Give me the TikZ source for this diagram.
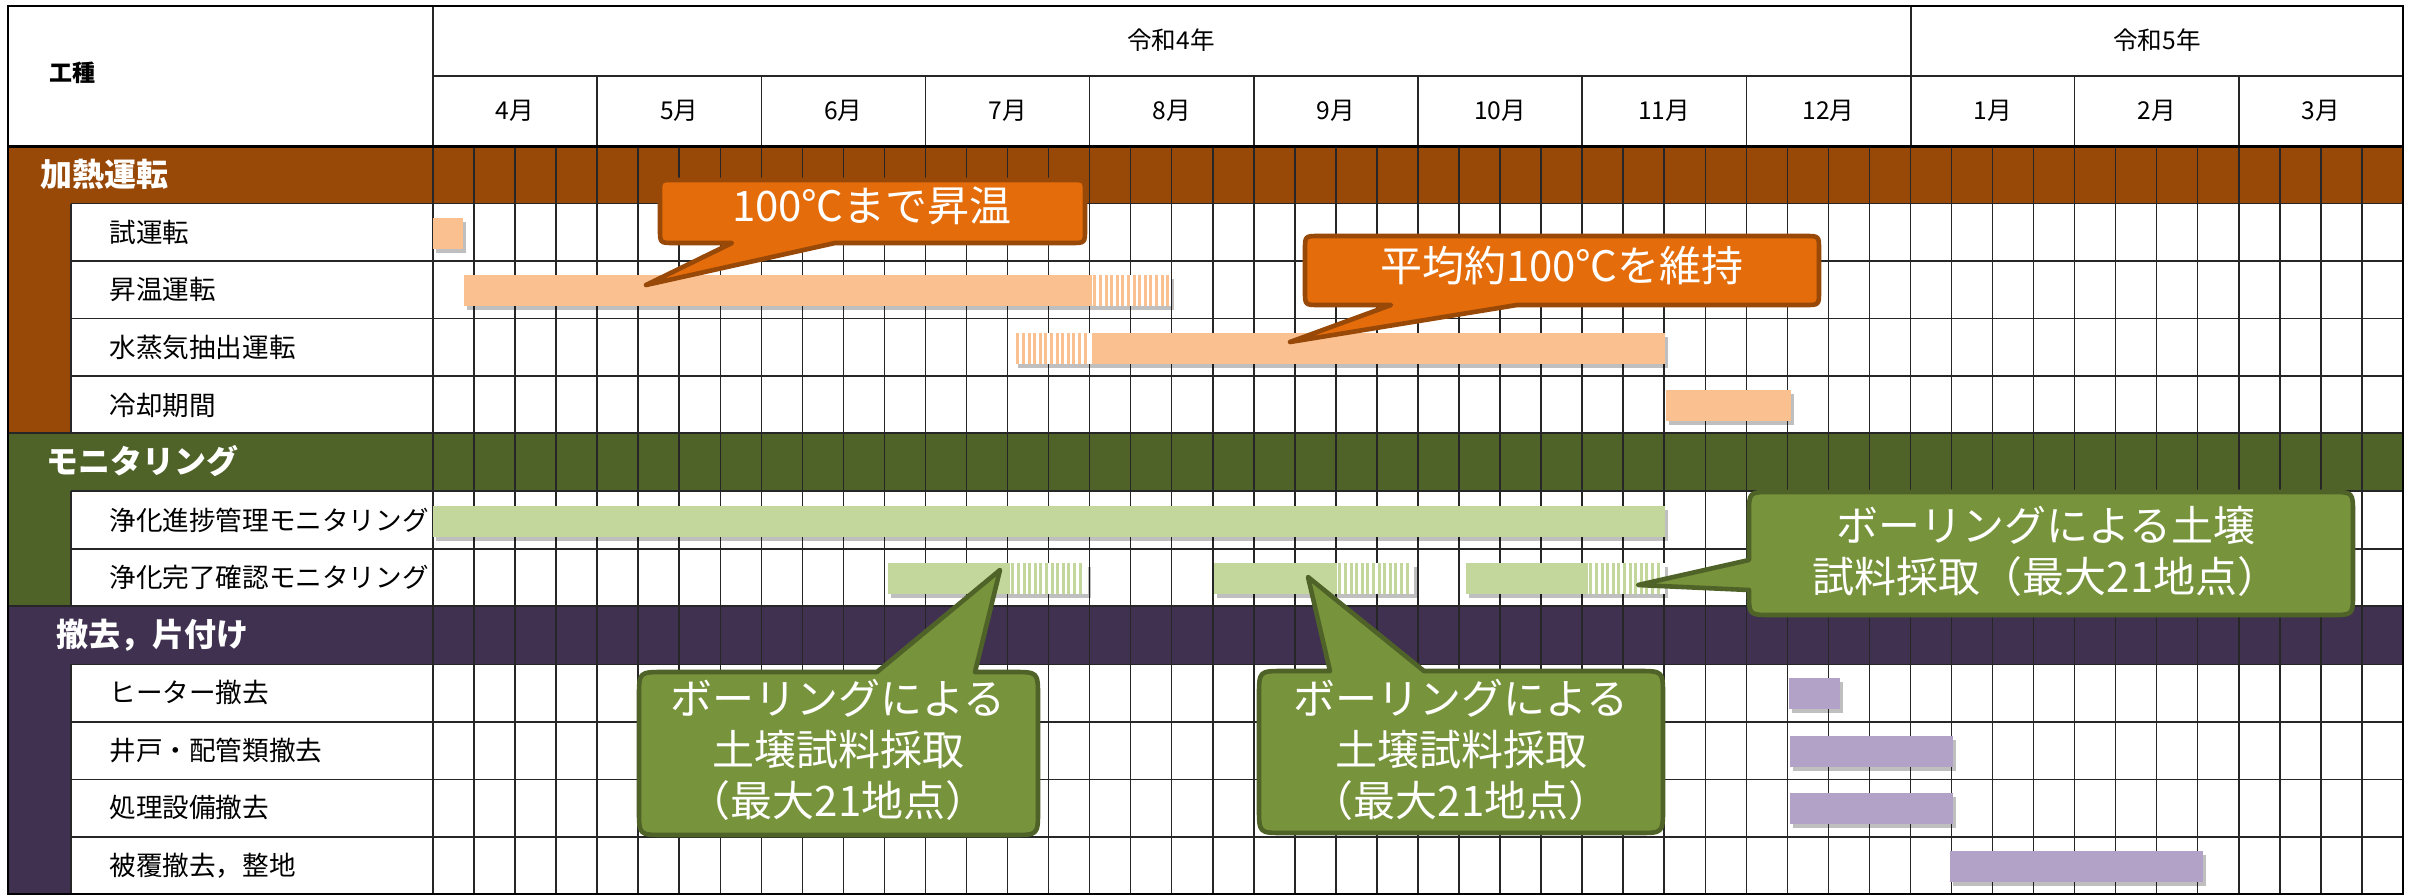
\documentclass[tikz,border=0pt]{standalone}
\usepackage{fontspec}
\setmainfont{Noto Sans CJK JP}
\usetikzlibrary{shadows}
\definecolor{brownband}{HTML}{984807}
\definecolor{oliveband}{HTML}{4F6228}
\definecolor{purpband}{HTML}{403151}
\definecolor{orangebar}{HTML}{FAC090}
\definecolor{greenbar}{HTML}{C3D69B}
\definecolor{purpbar}{HTML}{B3A2C7}
\definecolor{orangecall}{HTML}{E46C0A}
\definecolor{greencall}{HTML}{77933C}
\newcommand{\gstripes}[4]{%
  \pgfmathtruncatemacro{\nst}{(#2-#1)/5.6-1}%
  \foreach \s in {0,...,\nst} \fill[#4] ({#1+1.3+\s*5.6},#3) rectangle ++(3,31);%
}
\begin{document}
\begin{tikzpicture}[x=0.5pt,y=-0.5pt,
  grid/.style={line width=0.75pt,draw=black!85},
  shad/.style={drop shadow={shadow xshift=1.5pt,shadow yshift=-2pt,opacity=0.25,fill=black}},
  lbl/.style={anchor=west,inner sep=0pt,font=\fontsize{13.3}{16}\selectfont},
  ttl/.style={anchor=west,inner sep=0pt,text=white,font=\fontsize{16}{18}\selectfont\bfseries},
  hdr/.style={inner sep=0pt,font=\fontsize{12.3}{14}\selectfont},
  ctext/.style={inner sep=0pt,text=white,align=center,font=\fontsize{21}{25.5}\selectfont},
  ocall/.style={fill=orangecall,draw=brownband,line width=2.3pt,line join=round},
  gcall/.style={fill=greencall,draw=oliveband,line width=2.3pt,line join=round}]
\useasboundingbox (0,0) rectangle (2415,895);
\fill[white] (0,0) rectangle (2415,895);
% group colour fills
\fill[brownband] (8,146) rectangle (2403,203.5);
\fill[brownband] (8,203.5) rectangle (71,433);
\fill[oliveband] (8,433) rectangle (2403,491.2);
\fill[oliveband] (8,491.2) rectangle (71,606);
\fill[purpband] (8,606) rectangle (2403,664.3);
\fill[purpband] (8,664.3) rectangle (71,894);
% grid
\draw[grid] (433,6) -- (433,894);
\draw[grid] (433,76) -- (2403,76);
\draw[grid] (1911,6) -- (1911,146);
\foreach \m in {1,...,11} \draw[grid] ({433+164.17*\m},76) -- ({433+164.17*\m},146);
\foreach \k in {1,...,47} \draw[grid] ({433+41.04*\k},146) -- ({433+41.04*\k},894);
\foreach \yy in {203.5,261,318.6,376.2,491.2,548.8,664.3,721.9,779.4,837}
  \draw[grid] (71,\yy) -- (2403,\yy);
\draw[grid] (8,433) -- (2403,433);
\draw[grid] (8,606) -- (2403,606);
\draw[grid] (71,203.5) -- (71,433);
\draw[grid] (71,491.2) -- (71,606);
\draw[grid] (71,664.3) -- (71,894);
\draw[line width=1.5pt] (8,146) -- (2403,146);
\draw[line width=1pt] (8,6) rectangle (2403,894);
% bars: heating
\fill[orangebar,shad] (433,218) rectangle (463,249);
\fill[white,shad] (464,275) rectangle (1171,306);
\fill[orangebar] (464,275) rectangle (1092,306);
\gstripes{1092}{1171}{275}{orangebar}
\fill[white,shad] (1015,333) rectangle (1665,364);
\gstripes{1015}{1092}{333}{orangebar}
\fill[orangebar] (1092,333) rectangle (1665,364);
\fill[orangebar,shad] (1666,390) rectangle (1791,421);
% bars: monitoring
\fill[greenbar,shad] (433,505.5) rectangle (1665,536.5);
\fill[white,shad] (888,563) rectangle (1088,594);
\fill[greenbar] (888,563) rectangle (1010,594);
\gstripes{1010}{1088}{563}{greenbar}
\fill[white,shad] (1214,563) rectangle (1414,594);
\fill[greenbar] (1214,563) rectangle (1337,594);
\gstripes{1337}{1414}{563}{greenbar}
\fill[white,shad] (1466,563) rectangle (1665,594);
\fill[greenbar] (1466,563) rectangle (1588,594);
\gstripes{1588}{1665}{563}{greenbar}
% bars: removal
\fill[purpbar,shad] (1789,678) rectangle (1840,709);
\fill[purpbar,shad] (1790,735.7) rectangle (1953,766.7);
\fill[purpbar,shad] (1790,793) rectangle (1953,824);
\fill[purpbar,shad] (1950,850.8) rectangle (2203,881.8);
% header texts
\node[font=\fontsize{11.5}{14}\selectfont\bfseries,inner sep=0pt] (kosyu) at (72,73) {工種};
\node[hdr] (y4) at (1171,40) {令和4年};
\node[hdr] (y5) at (2157,40) {令和5年};
\foreach \t [count=\i from 0] in {4月,5月,6月,7月,8月,9月,10月,11月,12月,1月,2月,3月}
  \node[hdr] (mon\i) at ({433+164.17*(\i+0.5)},111) {\t};
% group titles
\node[ttl] (g1) at (40,174.5) {加熱運転};
\node[ttl] (g2) at (46,461) {モニタリング};
\node[ttl] (g3) at (56,635) {撤去，片付け};
% row labels
\node[lbl] (r1) at (109,232.3) {試運転};
\node[lbl] (r2) at (109,289.9) {昇温運転};
\node[lbl] (r3) at (109,347.4) {水蒸気抽出運転};
\node[lbl] (r4) at (109,405) {冷却期間};
\node[lbl] (r6) at (109,520) {浄化進捗管理モニタリング};
\node[lbl] (r7) at (109,577.6) {浄化完了確認モニタリング};
\node[lbl] (r9) at (109,692.7) {ヒーター撤去};
\node[lbl] (r10) at (109,750.3) {井戸・配管類撤去};
\node[lbl] (r11) at (109,807.8) {処理設備撤去};
\node[lbl] (r12) at (109,865.4) {被覆撤去，整地};
% callouts
\draw[ocall] (674,180) -- (1071,180) .. controls (1085,180) .. (1085,194) -- (1085,229) .. controls (1085,243) .. (1071,243) -- (835,243) -- (646,285) -- (732,243) -- (674,243) .. controls (660,243) .. (660,229) -- (660,194) .. controls (660,180) .. (674,180) -- cycle;
\node[ctext] (c1) at (872,206) {100℃まで昇温};
\draw[ocall] (1319,236) -- (1805,236) .. controls (1819,236) .. (1819,250) -- (1819,291) .. controls (1819,305) .. (1805,305) -- (1517,305) -- (1290,342) -- (1391,305) -- (1319,305) .. controls (1305,305) .. (1305,291) -- (1305,250) .. controls (1305,236) .. (1319,236) -- cycle;
\node[ctext] (c2) at (1562,266) {平均約100℃を維持};
\draw[gcall] (1771,492) -- (2331,492) .. controls (2353,492) .. (2353,514) -- (2353,593) .. controls (2353,615) .. (2331,615) -- (1771,615) .. controls (1749,615) .. (1749,593) -- (1749,590) -- (1638,585) -- (1749,560) -- (1749,514) .. controls (1749,492) .. (1771,492) -- cycle;
\node[ctext] (c3) at (2046,551) {ボーリングによる土壌\\試料採取（最大21地点）};
\draw[gcall] (664,672) -- (877,672) -- (1000,570) -- (975,672) -- (1013,672) .. controls (1038,672) .. (1038,697) -- (1038,810) .. controls (1038,835) .. (1013,835) -- (664,835) .. controls (639,835) .. (639,810) -- (639,697) .. controls (639,672) .. (664,672) -- cycle;
\node[ctext] (c4) at (838,750) {ボーリングによる\\土壌試料採取\\（最大21地点）};
\draw[gcall] (1284,671) -- (1330,671) -- (1308,577) -- (1424,671) -- (1638,671) .. controls (1663,671) .. (1663,696) -- (1663,808) .. controls (1663,833) .. (1638,833) -- (1284,833) .. controls (1259,833) .. (1259,808) -- (1259,696) .. controls (1259,671) .. (1284,671) -- cycle;
\node[ctext] (c5) at (1461,750) {ボーリングによる\\土壌試料採取\\（最大21地点）};
\end{tikzpicture}
\end{document}
